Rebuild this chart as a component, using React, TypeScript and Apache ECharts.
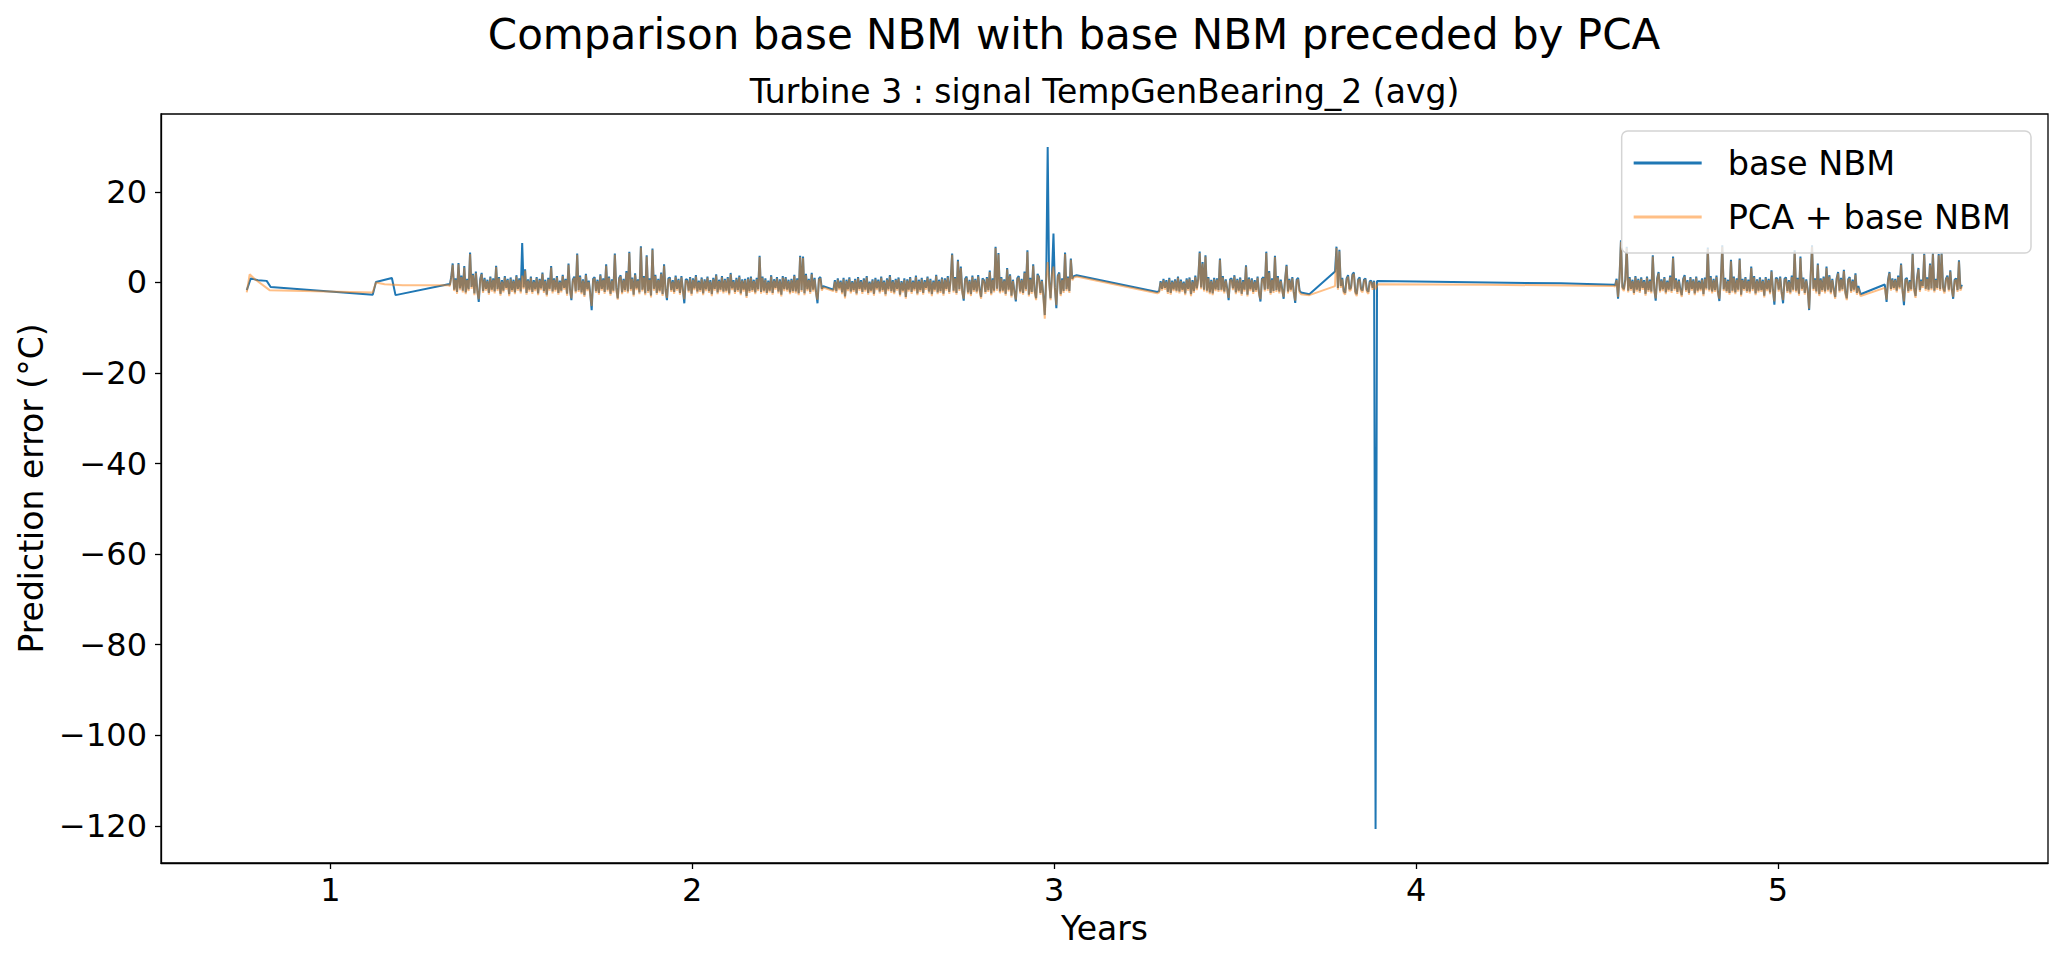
import React, { useEffect, useRef } from "react";
import * as echarts from "echarts";

const FONT = "DejaVu Sans";

const TITLE = "Comparison base NBM with base NBM preceded by PCA";
const SUBTITLE = "Turbine 3 : signal TempGenBearing_2 (avg)";
const X_LABEL = "Years";
const Y_LABEL = "Prediction error (°C)";
const SERIES_NAMES = ["base NBM", "PCA + base NBM"];

const X_TICKS = [1, 2, 3, 4, 5];
const Y_TICKS = [-120, -100, -80, -60, -40, -20, 0, 20];
const X_RANGE = [0.532, 5.746];
const Y_RANGE = [-128.2, 37.2];

// sampling step (years) inside the dense blocks, and the start year of each block
const STEP = 0.004;
const BLOCK_STARTS = [1.33, 2.39, 3.29, 3.78, 4.55, 5.3];

// ---------------- base NBM (blue) ----------------
const blueLead = [
  [0.769, -1.7], [0.78, 0.9], [0.8, 0.5], [0.824, 0.35], [0.835, -1.0],
  [1.117, -2.7], [1.126, 0.1], [1.17, 1.0], [1.18, -2.8], [1.326, -0.4],
];
const blueB1 = [
  -0.5, 1.2, 4.2, -1.6, 0.9, -2.1, 4.3, -1.3, 1.5, -1.8,
  3.6, -2.2, 0.8, -1.5, 6.6, -1.0, 1.9, -2.4, 2.4, -1.7,
  -4.3, 0.7, 2.1, -1.9, 1.0, -1.4, 0.6, -2.3, 1.3, -1.6,
  0.9, -2.0, 3.7, -1.5, 1.2, -2.5, 0.5, -1.8, 1.4, -1.2,
  0.8, -2.6, 1.1, -1.7, 0.6, -2.2, 1.6, -1.4, 0.9, -2.0,
  8.7, -1.1, 2.9, -2.3, 0.7, -1.6, 1.3, -2.1, 0.5, -1.5,
  1.2, -2.4, 0.8, -1.3, 2.2, -1.9, 0.6, -2.7, 1.0, -1.4,
  3.6, -2.0, 0.9, -1.6, 1.4, -2.3, 0.4, -1.8, 1.7, -1.2,
  0.8, -2.5, 4.2, -1.4, -3.9, 0.6, 1.3, -2.0, 6.4, -1.7,
  1.5, -2.2, 0.7, -2.8, 1.9, -1.5, 0.4, -2.4, -6.1, 0.8,
  1.2, -1.9, 0.6, -2.3, 1.8, -1.4, 0.9, -2.1, 4.0, -1.6,
  1.3, -2.5, 0.7, -1.8, 6.4, -1.2, -3.5, 1.0, 1.6, -2.2,
  0.8, -1.7, 2.5, -2.0, 6.8, -1.5, 1.1, -2.7, 2.0, -1.3,
  0.7, -2.2, 8.0, -1.6, 1.4, -2.4, 6.0, -1.9, 0.9, -2.9,
  7.5, -1.4, 1.7, -2.3, 0.8, -1.8, 2.2, -2.6, 4.0, -1.5,
  -3.9, 0.9, 1.1, -1.7, 0.5, -2.1, 1.5, -1.4, 0.8, -2.3,
  1.4, -1.6, -4.6, 0.7, 0.6, -1.8, 1.2, -2.5, 0.9, -1.3,
  1.6, -2.0, 0.4, -1.7, 1.1, -2.4, 0.7, -1.5, 1.3, -1.9,
  0.5, -2.6, 1.0, -1.4, 1.8, -2.2, 0.6, -1.6, 1.4, -2.0,
  0.8, -1.8, 1.2, -2.4, 2.1, -1.3, 0.5, -2.1, 1.0, -1.7,
  1.5, -2.4, 0.7, -1.6, 0.8, -3.0, 1.1, -1.9, 1.3, -1.7,
  0.6, -2.2, 1.0, -1.5, 5.9, -2.1, 1.3, -1.8, 0.9, -2.3,
  0.4, -1.8, 1.6, -2.3, 0.7, -1.2, 1.2, -2.0, 0.7, -2.7,
  1.4, -1.5, 1.2, -1.6, 0.6, -2.2, 0.8, -1.9, 1.7, -2.0,
  0.9, -2.4, 5.9, -1.7, 5.7, -2.4, 1.9, -1.5, 0.8, -2.1,
  2.1, -1.6, 1.0, -2.2, -4.6, 0.9, 1.2, -1.4, -0.8,
];
const blueB2 = [
  -1.6, 0.5, -1.9, 0.9, -1.3, 0.4, -2.2, 1.0, -3.1, 0.6,
  -1.5, 1.1, -2.0, 0.3, -1.7, 0.8, -2.4, 1.2, -1.4, 0.5,
  -2.1, 0.9, -1.6, 1.4, -2.3, 0.2, -1.8, 0.7, -2.5, 1.0,
  -1.3, 0.6, -2.0, 1.3, -1.7, 0.4, -2.6, 0.9, -1.5, 1.6,
  -1.9, 0.5, -2.2, 0.8, -1.4, 1.1, -2.7, 0.3, -1.8, 0.9,
  -3.2, 0.7, -1.6, 1.2, -2.1, 0.4, -1.5, 1.5, -2.4, 0.6,
  -1.7, 1.0, -2.3, 0.5, -1.2, 1.3, -2.0, 0.8, -2.6, 0.4,
  -1.6, 1.7, -2.2, 0.6, -1.9, 1.1, -2.5, 0.9, -1.4, 1.4,
  -2.1, 0.7, 6.4, -1.8, 1.2, -2.3, 5.0, -1.5, 3.5, -1.9,
  -4.0, 0.8, 1.3, -2.2, 0.6, -2.6, 1.5, -1.7, 0.8, -2.0,
  1.6, -1.5, -3.2, 0.9, 0.5, -2.1, 1.2, -1.7, 2.6, -2.4,
  0.9, -1.8, 7.9, -1.4, 6.5, -2.0, 1.2, -1.8, 0.7, -2.5,
  3.2, -1.6, 1.8, -2.9, 0.6, -1.9, -4.2, 0.9, 1.4, -2.0,
  0.8, -2.3, 2.4, -1.5, 7.1, -2.7, 1.0, -2.1, 4.0, -1.8,
  -3.5, 1.9, 1.2, -2.3, 0.6, -2.8, -7.2, 1.3, 29.9, 0.4,
  -3.5, 2.1, 10.8, -1.2, -5.7, 1.5, 2.2, -2.6, 0.9, -1.9,
  6.6, -1.5, 1.3, -1.9, 5.3, 0.8, 1.4,
];
const blueLink2 = [[3.062, 1.6], [3.285, -2.1]];
const blueB3 = [
  -1.9, 0.3, -1.4, 0.8, -1.2, 0.5, -2.1, 1.0, -2.3, 0.4,
  -1.5, 0.7, -1.8, 1.3, -2.0, 0.6, -1.6, 0.2, -2.4, 0.9,
  -1.4, 1.1, -2.6, 0.5, -1.9, 1.5, -1.3, 0.8, 6.8, -1.1,
  4.5, -1.6, 6.0, -1.8, 1.2, -2.2, 0.6, -2.4, 1.0, -1.5,
  0.9, -1.7, 5.3, -1.6, 1.4, -2.0, 0.7, -1.3, -3.9, 0.7,
  0.9, -1.3, 1.6, -2.2, 0.8, -1.8, 1.1, -2.5, 0.5, -1.6,
  3.8, -2.7, 1.1, -1.5, 0.9, -2.1, 0.5, -1.7, 1.3, -2.3,
  -4.2, 0.8, 1.2, -1.6, 6.8, -1.4, 2.5, -2.3, 0.9, -1.9,
  5.9, -1.7, 1.4, -2.0, 0.6, -1.5, -3.6, 0.7, 3.9, -2.0,
  0.8, -1.6, 1.2, -2.1, -4.5, 0.6, 1.0, -1.8, -2.2,
];
const blueLink3 = [[3.705, -2.6], [3.776, 2.4]];
const blueB4 = [
  7.9, -1.2, 7.2, -0.8, 1.0, -1.9, -2.3, 0.9, 1.6, -1.5,
  -1.2, 1.8, 2.2, -2.0, -2.6, 0.7, 1.1, -1.4, -1.8, 0.6,
  0.9, -1.7, -2.1, 0.3, 0.4, -1.2, 0.4,
];
const blueLink4 = [
  [3.888, -120.7], [3.892, 0.3], [4.0, 0.2], [4.2, 0.0], [4.4, -0.2], [4.546, -0.5],
];
const blueB5 = [
  -0.6, 0.8, -3.6, 1.1, 9.3, -1.0, -1.5, 0.7, 7.9, -1.8,
  1.2, -1.4, 0.6, -2.3, 1.4, -1.6, 0.8, -1.9, 1.1, -1.2,
  0.5, -2.5, 1.3, -1.7, 0.6, -2.0, 6.0, -1.3, -4.0, 0.9,
  2.3, -1.8, 0.7, -1.5, 1.2, -2.2, 0.4, -1.6, 1.5, -1.9,
  5.7, -1.4, 0.9, -2.1, 0.6, -1.5, -2.8, 0.8, 1.6, -1.7,
  0.5, -2.3, 1.2, -1.4, 0.7, -2.4, 1.3, -1.8, 0.4, -1.5,
  0.9, -2.6, 1.1, -1.3, 7.7, -1.6, 1.4, -2.0, 0.8, -1.7,
  1.5, -2.1, -4.1, 0.6, 8.2, -1.5, 1.0, -1.9, 0.6, -2.3,
  5.0, -1.8, 1.3, -2.2, 0.9, -1.6, 5.3, -2.7, 0.8, -1.4,
  1.2, -1.9, 0.6, -2.0, 3.5, -1.5, 1.4, -2.4, 0.7, -1.8,
  1.1, -1.7, 0.6, -2.9, 1.2, -1.5, 0.8, -2.2, 2.7, -1.6,
  -4.9, 1.0, 0.9, -1.6, 1.3, -2.1, -4.6, 0.8, 1.1, -1.9,
  0.5, -2.2, 1.5, -1.6, 7.1, -1.8, 1.0, -2.5, 5.7, -1.4,
  1.1, -2.3, 0.7, -1.5, -6.1, 1.2, 8.2, -1.4, 0.9, -2.0,
  4.2, -2.6, 0.9, -1.7, 1.3, -2.0, 3.5, -1.6, 1.6, -2.2,
  0.8, -1.5, -3.2, 0.9, 2.3, -1.8, 1.0, -1.5, 2.8, -2.1,
  -3.5, 0.7, 1.2, -1.9, 0.6, -1.6, 2.0, -2.3, -0.8,
];
const blueLink5 = [[5.228, -2.6], [5.295, -0.45]];
const blueB6 = [
  -4.3, 0.6, 2.3, -1.4, 0.9, -1.2, 0.8, -1.8, 1.5, -1.1,
  4.2, -1.6, -5.0, 0.7, 1.0, -1.9, 0.5, -1.5, 6.5, -1.2,
  -3.0, 0.9, 3.2, -1.7, 0.6, -0.8, 6.4, -1.4, 1.1, -1.6,
  4.2, -1.3, 6.5, -1.8, 0.8, -1.2, 6.3, -1.5, 6.5, -1.1,
  -2.0, 0.8, 1.5, -1.6, 2.7, -1.3, -3.6, 0.6, 0.9, -1.7,
  4.9, -1.4, -0.5,
];

// ---------------- PCA + base NBM (orange) ----------------
const orangeLead = [
  [0.769, -2.2], [0.777, 1.8], [0.79, 0.8], [0.832, -1.7], [1.117, -2.2],
  [1.126, 0.0], [1.15, -0.4], [1.2, -0.6], [1.326, -0.6],
];
const orangeB1 = [
  -0.8, 0.9, 3.9, -1.9, 0.6, -2.5, 4.0, -1.7, 1.2, -2.2,
  3.3, -2.6, 0.5, -1.9, 6.3, -1.4, 1.6, -2.8, 2.1, -2.1,
  -3.7, 0.4, 1.8, -2.3, 0.7, -1.8, 0.3, -2.7, 1.0, -2.0,
  0.6, -2.4, 3.4, -1.9, 0.9, -2.9, 0.2, -2.2, 1.1, -1.6,
  0.5, -3.0, 0.8, -2.1, 0.3, -2.6, 1.3, -1.8, 0.6, -2.4,
  1.5, -1.5, 2.6, -2.7, 0.4, -2.0, 1.0, -2.5, 0.2, -1.9,
  0.9, -2.8, 0.5, -1.7, 1.9, -2.3, 0.3, -3.1, 0.7, -1.8,
  3.3, -2.4, 0.6, -2.0, 1.1, -2.7, 0.1, -2.2, 1.4, -1.6,
  0.5, -2.9, 3.9, -1.8, -3.5, 0.3, 1.0, -2.4, 6.1, -2.1,
  1.2, -2.6, 0.4, -3.2, 1.6, -1.9, 0.1, -2.8, -5.2, 0.5,
  0.9, -2.3, 0.3, -2.7, 1.5, -1.8, 0.6, -2.5, 3.7, -2.0,
  1.0, -2.9, 0.4, -2.2, 6.1, -1.6, -3.8, 0.7, 1.3, -2.6,
  0.5, -2.1, 2.2, -2.4, 6.5, -1.9, 0.8, -3.1, 1.7, -1.7,
  0.4, -2.6, 7.7, -2.0, 1.1, -2.8, 5.7, -2.3, 0.6, -3.3,
  7.2, -1.8, 1.4, -2.7, 0.5, -2.2, 1.9, -3.0, 3.7, -1.9,
  -3.4, 0.6, 0.8, -2.1, 0.2, -2.5, 1.2, -1.8, 0.5, -2.7,
  1.1, -2.0, -3.7, 0.4, 0.3, -2.2, 0.9, -2.9, 0.6, -1.7,
  1.3, -2.4, 0.1, -2.1, 0.8, -2.8, 0.4, -1.9, 1.0, -2.3,
  0.2, -3.0, 0.7, -1.8, 1.5, -2.6, 0.3, -2.0, 1.1, -2.4,
  0.5, -2.2, 0.9, -2.8, 1.8, -1.7, 0.2, -2.5, 0.7, -2.1,
  1.2, -2.8, 0.4, -2.0, 0.5, -3.4, 0.8, -2.3, 1.0, -2.1,
  0.3, -2.6, 0.7, -1.9, 5.6, -2.5, 1.0, -2.2, 0.6, -2.7,
  0.1, -2.2, 1.3, -2.7, 0.4, -1.6, 0.9, -2.4, 0.4, -3.1,
  1.1, -1.9, 0.9, -2.0, 0.3, -2.6, 0.5, -2.3, 1.4, -2.4,
  0.6, -2.8, 5.6, -2.1, 5.4, -2.8, 1.6, -1.9, 0.5, -2.5,
  1.8, -2.0, 0.7, -2.6, -3.8, 0.6, 0.9, -1.8, -1.1,
];
const orangeB2 = [
  -1.9, 0.2, -2.3, 0.6, -1.7, 0.1, -2.6, 0.7, -3.5, 0.3,
  -1.9, 0.8, -2.4, 0.0, -2.1, 0.5, -2.8, 0.9, -1.8, 0.2,
  -2.5, 0.6, -2.0, 1.1, -2.7, -0.1, -2.2, 0.4, -2.9, 0.7,
  -1.7, 0.3, -2.4, 1.0, -2.1, 0.1, -3.0, 0.6, -1.9, 1.3,
  -2.3, 0.2, -2.6, 0.5, -1.8, 0.8, -3.1, 0.0, -2.2, 0.6,
  -3.6, 0.4, -2.0, 0.9, -2.5, 0.1, -1.9, 1.2, -2.8, 0.3,
  -2.1, 0.7, -2.7, 0.2, -1.6, 1.0, -2.4, 0.5, -3.0, 0.1,
  -2.0, 1.4, -2.6, 0.3, -2.3, 0.8, -2.9, 0.6, -1.8, 1.1,
  -2.5, 0.4, 6.1, -2.2, 0.9, -2.7, 4.7, -1.9, 3.2, -2.3,
  -3.6, 0.5, 1.0, -2.6, 0.3, -3.0, 1.2, -2.1, 0.5, -2.4,
  1.3, -1.9, -3.6, 0.6, 0.2, -2.5, 0.9, -2.1, 2.3, -2.8,
  0.6, -2.2, 7.6, -1.8, 6.2, -2.4, 0.9, -2.2, 0.4, -2.9,
  2.9, -2.0, 1.5, -3.3, 0.3, -2.3, -3.8, 0.6, 1.1, -2.4,
  0.5, -2.7, 2.1, -1.9, 6.8, -3.1, 0.7, -2.5, 3.7, -2.2,
  -3.9, 1.6, 0.9, -2.7, 0.3, -3.2, -8.0, 1.0, 4.5, 0.1,
  -3.9, 1.8, 3.5, -1.6, -5.0, 1.2, 1.9, -3.0, 0.6, -2.3,
  6.3, -1.9, 1.0, -2.3, 5.0, 0.5, 1.1,
];
const orangeLink2 = [[3.062, 1.3], [3.285, -2.4]];
const orangeB3 = [
  -2.2, 0.0, -1.8, 0.5, -1.6, 0.2, -2.5, 0.7, -2.7, 0.1,
  -1.9, 0.4, -2.2, 1.0, -2.4, 0.3, -2.0, -0.1, -2.8, 0.6,
  -1.8, 0.8, -3.0, 0.2, -2.3, 1.2, -1.7, 0.5, 6.5, -1.5,
  4.2, -2.0, 5.7, -2.2, 0.9, -2.6, 0.3, -2.8, 0.7, -1.9,
  0.6, -2.1, 5.0, -2.0, 1.1, -2.4, 0.4, -1.7, -3.4, 0.4,
  0.6, -1.7, 1.3, -2.6, 0.5, -2.2, 0.8, -2.9, 0.2, -2.0,
  3.5, -3.1, 0.8, -1.9, 0.6, -2.5, 0.2, -2.1, 1.0, -2.7,
  -3.7, 0.5, 0.9, -2.0, 6.5, -1.8, 2.2, -2.7, 0.6, -2.3,
  5.6, -2.1, 1.1, -2.4, 0.3, -1.9, -3.2, 0.4, 3.6, -2.4,
  0.5, -2.0, 0.9, -2.5, -4.0, 0.3, 0.7, -2.2, -2.6,
];
const orangeLink3 = [[3.705, -2.8], [3.776, -0.8]];
const orangeB4 = [
  7.6, -1.6, 6.9, -1.2, 0.7, -2.3, -2.7, 0.6, 1.3, -1.9,
  -1.6, 1.5, 1.9, -2.4, -3.0, 0.4, 0.8, -1.8, -2.2, 0.3,
  0.6, -2.1, -2.5, 0.0, 0.1, -1.6, 0.1,
];
const orangeLink4 = [[3.888, -1.5], [3.894, -0.4], [4.2, -0.5], [4.546, -0.8]];
const orangeB5 = [
  -0.9, 0.5, -3.2, 0.8, 9.0, -1.4, -1.9, 0.4, 7.6, -2.2,
  0.9, -1.8, 0.3, -2.7, 1.1, -2.0, 0.5, -2.3, 0.8, -1.6,
  0.2, -2.9, 1.0, -2.1, 0.3, -2.4, 5.7, -1.7, -3.5, 0.6,
  2.0, -2.2, 0.4, -1.9, 0.9, -2.6, 0.1, -2.0, 1.2, -2.3,
  5.4, -1.8, 0.6, -2.5, 0.3, -1.9, -3.2, 0.5, 1.3, -2.1,
  0.2, -2.7, 0.9, -1.8, 0.4, -2.8, 1.0, -2.2, 0.1, -1.9,
  0.6, -3.0, 0.8, -1.7, 7.4, -2.0, 1.1, -2.4, 0.5, -2.1,
  1.2, -2.5, -3.6, 0.3, 7.9, -1.9, 0.7, -2.3, 0.3, -2.7,
  4.7, -2.2, 1.0, -2.6, 0.6, -2.0, 5.0, -3.1, 0.5, -1.8,
  0.9, -2.3, 0.3, -2.4, 3.2, -1.9, 1.1, -2.8, 0.4, -2.2,
  0.8, -2.1, 0.3, -3.3, 0.9, -1.9, 0.5, -2.6, 2.4, -2.0,
  -4.2, 0.7, 0.6, -2.0, 1.0, -2.5, -3.9, 0.5, 0.8, -2.3,
  0.2, -2.6, 1.2, -2.0, 6.8, -2.2, 0.7, -2.9, 5.4, -1.8,
  0.8, -2.7, 0.4, -1.9, -5.8, 0.9, 7.9, -1.8, 0.6, -2.4,
  3.9, -3.0, 0.6, -2.1, 1.0, -2.4, 3.2, -2.0, 1.3, -2.6,
  0.5, -1.9, -3.6, 0.6, 2.0, -2.2, 0.7, -1.9, 2.5, -2.5,
  -3.9, 0.4, 0.9, -2.3, 0.3, -2.0, 1.7, -2.7, -1.2,
];
const orangeLink5 = [[5.228, -3.0], [5.295, -1.2]];
const orangeB6 = [
  -3.8, 0.3, 2.0, -1.8, 0.6, -1.6, 0.5, -2.2, 1.2, -1.5,
  3.9, -2.0, -4.2, 0.4, 0.7, -2.3, 0.2, -1.9, 6.2, -1.6,
  -3.4, 0.6, 2.9, -2.1, 0.3, -1.2, 6.1, -1.8, 0.8, -2.0,
  3.9, -1.7, 6.2, -2.2, 0.5, -1.6, 6.0, -1.9, 6.2, -1.5,
  -2.4, 0.5, 1.2, -2.0, 2.4, -1.7, -3.2, 0.3, 0.6, -2.1,
  4.6, -1.8, -0.9,
];

function block(start: number, values: number[]) {
  return values.map((v, i) => [Number((start + i * STEP).toFixed(4)), v]);
}

function assemble(lead: number[][], blocks: number[][], links: (number[][] | null)[]) {
  const out: number[][] = [...lead];
  blocks.forEach((vals, k) => {
    out.push(...block(BLOCK_STARTS[k], vals));
    const l = links[k];
    if (l) out.push(...l);
  });
  return out;
}

const blueData = assemble(
  blueLead,
  [blueB1, blueB2, blueB3, blueB4, blueB5, blueB6],
  [null, blueLink2, blueLink3, blueLink4, blueLink5, null]
);
const orangeData = assemble(
  orangeLead,
  [orangeB1, orangeB2, orangeB3, orangeB4, orangeB5, orangeB6],
  [null, orangeLink2, orangeLink3, orangeLink4, orangeLink5, null]
);

const fmt = (v: number) => (v < 0 ? "\u2212" + Math.abs(v) : String(v));

export default function App() {
  const ref = useRef<HTMLDivElement>(null);
  useEffect(() => {
    if (!ref.current) return;
    const chart = echarts.init(ref.current, undefined, { renderer: "svg" });
    const txt = (text: string, x: number, y: number, size: number, rotation = 0) => ({
      type: "text",
      x,
      y,
      rotation,
      silent: true,
      style: {
        text,
        fill: "#000",
        fontSize: size,
        fontFamily: FONT,
        align: "center",
        verticalAlign: "middle",
        textAlign: "center",
        textVerticalAlign: "middle",
      },
    });
    chart.setOption({
      animation: false,
      backgroundColor: "#ffffff",
      grid: {
        left: 161,
        right: 19,
        top: 114,
        bottom: 95,
        show: true,
        borderColor: "#000",
        borderWidth: 1.3,
        backgroundColor: "transparent",
        containLabel: false,
      },
      xAxis: {
        type: "value",
        min: X_RANGE[0],
        max: X_RANGE[1],
        splitLine: { show: false },
        axisLine: { show: true, onZero: false, lineStyle: { color: "#000", width: 1.3 } },
        axisTick: { show: true, length: 6, lineStyle: { color: "#000", width: 1.3 }, customValues: X_TICKS },
        axisLabel: {
          customValues: X_TICKS,
          fontSize: 32,
          fontFamily: FONT,
          color: "#000",
          margin: 27,
          verticalAlign: "middle",
        },
      },
      yAxis: {
        type: "value",
        min: Y_RANGE[0],
        max: Y_RANGE[1],
        splitLine: { show: false },
        axisLine: { show: true, onZero: false, lineStyle: { color: "#000", width: 1.3 } },
        axisTick: { show: true, length: 6, lineStyle: { color: "#000", width: 1.3 }, customValues: Y_TICKS },
        axisLabel: {
          customValues: Y_TICKS,
          fontSize: 32,
          fontFamily: FONT,
          color: "#000",
          margin: 14,
          formatter: fmt,
        },
      },
      legend: {
        show: true,
        orient: "vertical",
        right: 36,
        top: 131,
        itemWidth: 68,
        itemHeight: 3,
        itemGap: 20,
        icon: "rect",
        padding: [15, 20, 19, 12],
        backgroundColor: "rgba(255,255,255,0.8)",
        borderColor: "#d4d4d4",
        borderWidth: 1.5,
        borderRadius: 6,
        selectedMode: false,
        textStyle: { fontSize: 33.5, fontFamily: FONT, color: "#000", padding: [0, 0, 0, 21] },
        data: [
          { name: SERIES_NAMES[0], itemStyle: { color: "#1f77b4" } },
          { name: SERIES_NAMES[1], itemStyle: { color: "rgba(255,127,14,0.5)" } },
        ],
      },
      series: [
        {
          type: "line",
          name: SERIES_NAMES[0],
          data: blueData,
          symbol: "none",
          showSymbol: false,
          clip: true,
          z: 2,
          lineStyle: { color: "#1f77b4", width: 2 },
          itemStyle: { color: "#1f77b4" },
        },
        {
          type: "line",
          name: SERIES_NAMES[1],
          data: orangeData,
          symbol: "none",
          showSymbol: false,
          clip: true,
          z: 3,
          lineStyle: { color: "#ff7f0e", width: 2, opacity: 0.5 },
          itemStyle: { color: "#ff7f0e" },
        },
      ],
      graphic: [
        txt(TITLE, 1074, 34.5, 42),
        txt(SUBTITLE, 1104.5, 91.6, 33),
        txt(X_LABEL, 1104.5, 928.6, 33),
        txt(Y_LABEL, 31.6, 488.5, 33, Math.PI / 2),
      ],
    });
    return () => chart.dispose();
  }, []);
  return (
    <div
      ref={ref}
      style={{ position: "fixed", left: 0, top: 0, width: 2067, height: 958, background: "#fff" }}
    />
  );
}
